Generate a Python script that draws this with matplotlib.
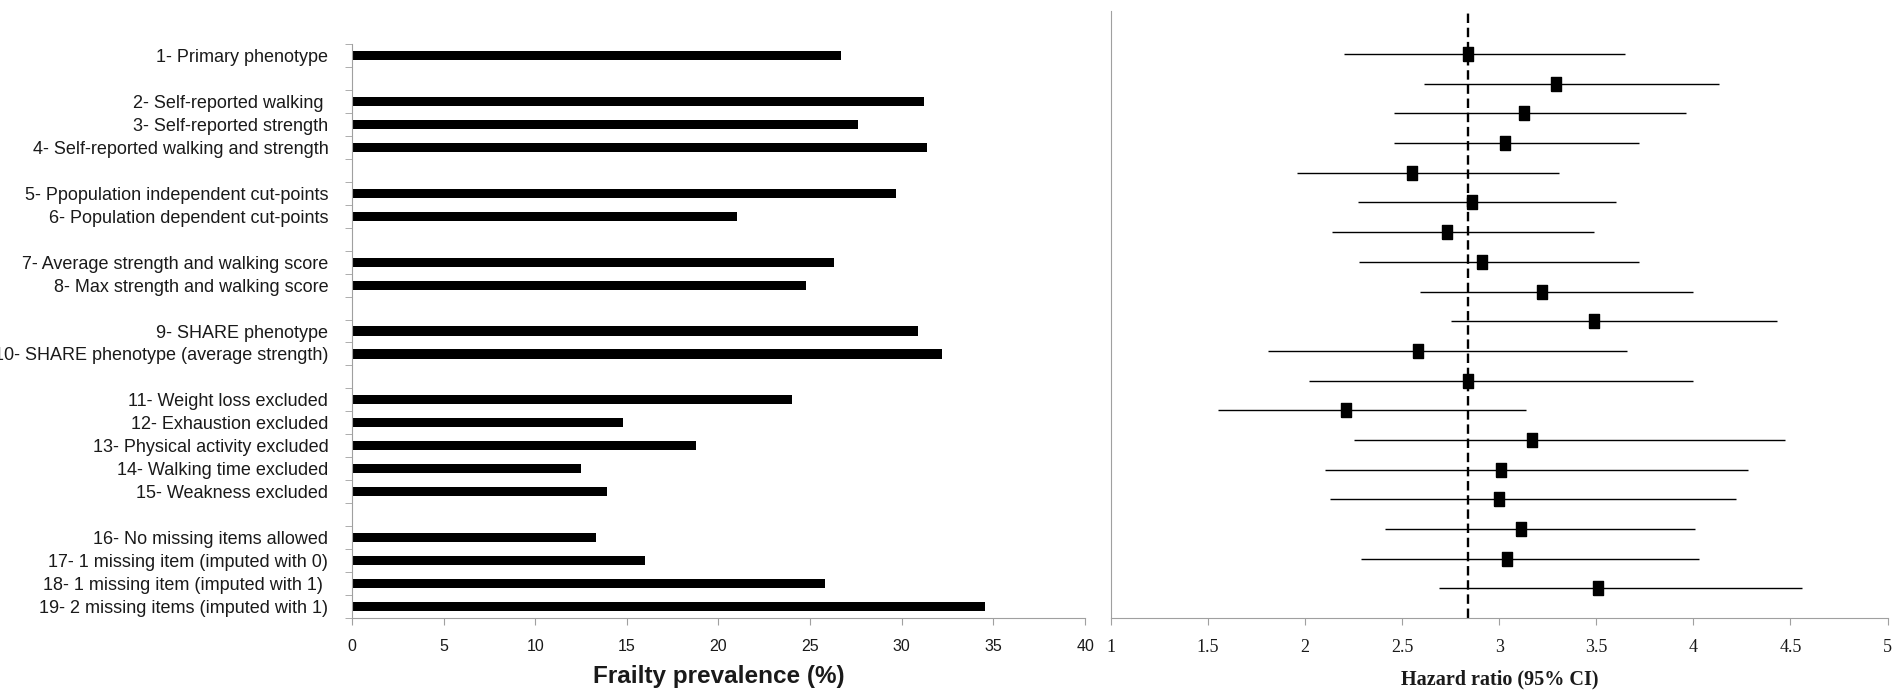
import numpy as np
import matplotlib
matplotlib.use('Agg')
import matplotlib.pyplot as plt

# frailty definitions (top to bottom) and whether a blank row follows
labels = ['1- Primary phenotype',
          '2- Self-reported walking ', '3- Self-reported strength',
          '4- Self-reported walking and strength',
          '5- Ppopulation independent cut-points', '6- Population dependent cut-points',
          '7- Average strength and walking score', '8- Max strength and walking score',
          '9- SHARE phenotype', '10- SHARE phenotype (average strength)',
          '11- Weight loss excluded', '12- Exhaustion excluded',
          '13- Physical activity excluded', '14- Walking time excluded',
          '15- Weakness excluded',
          '16- No missing items allowed', '17- 1 missing item (imputed with 0)',
          '18- 1 missing item (imputed with 1) ', '19- 2 missing items (imputed with 1)']
gap_after = [1, 4, 6, 8, 10, 15]

prevalence = [26.7, 31.2, 27.6, 31.4, 29.7, 21.0, 26.3, 24.8, 30.9, 32.2,
              24.0, 14.8, 18.8, 12.5, 13.9, 13.3, 16.0, 25.8, 34.55]

hr = [2.84, 3.29, 3.13, 3.03, 2.55, 2.86, 2.73, 2.91, 3.22, 3.49,
      2.58, 2.84, 2.21, 3.17, 3.01, 3.00, 3.11, 3.04, 3.51]
hr_low = [2.20, 2.61, 2.46, 2.46, 1.96, 2.27, 2.14, 2.28, 2.59, 2.75,
          1.81, 2.02, 1.55, 2.25, 2.10, 2.13, 2.41, 2.29, 2.69]
hr_high = [3.65, 4.13, 3.96, 3.72, 3.31, 3.60, 3.49, 3.72, 4.00, 4.43,
           3.66, 4.00, 3.14, 4.47, 4.28, 4.22, 4.01, 4.03, 4.56]
hr_ref = 2.84

plt.rcParams['font.family'] = ['Liberation Sans', 'DejaVu Sans']
txt = '#1a1a1a'
grey = '#a0a0a0'

fig = plt.figure(figsize=(18.93, 6.92), dpi=100)

# left panel: prevalence bars, with blank rows between groups
ax1 = fig.add_axes([0.1859, 0.1069, 0.5732 - 0.1859, 0.9364 - 0.1069])
pos = []
slot = 0
for i in range(len(labels)):
    pos.append(slot + 0.5)
    slot += 1
    if i + 1 in gap_after:
        slot += 1
nslots = slot

ax1.barh(pos, prevalence, height=0.4, color='black')
ax1.set_ylim(nslots, 0)
ax1.set_xlim(0, 40)
ax1.set_yticks(pos)
ax1.set_yticklabels(labels, fontsize=13, color=txt)
ax1.set_yticks(np.arange(nslots + 1), minor=True)
ax1.tick_params(axis='y', which='major', length=0, pad=17)
ax1.tick_params(axis='y', which='minor', length=5, color=grey, direction='out')
ax1.set_xticks(np.arange(0, 41, 5))
ax1.tick_params(axis='x', length=5, color=grey, labelsize=11.5, labelcolor=txt, pad=10)
for s in ['top', 'right']:
    ax1.spines[s].set_visible(False)
for s in ['left', 'bottom']:
    ax1.spines[s].set_color(grey)
ax1.set_xlabel('Frailty prevalence (%)', fontsize=17.5, fontweight='bold', color=txt, labelpad=8)

# right panel: hazard ratios with 95% CI
ax2 = fig.add_axes([0.5869, 0.1069, 0.9971 - 0.5869, 0.9841 - 0.1069])
ypos = np.arange(1, len(hr) + 1)
rect = [(-0.38, -0.5), (0.38, -0.5), (0.38, 0.5), (-0.38, 0.5), (-0.38, -0.5)]
ax2.hlines(ypos, hr_low, hr_high, color='black', lw=1.0, zorder=2)
ax2.plot(hr, ypos, linestyle='none', marker=rect, markersize=10,
         color='black', zorder=3)
ax2.axvline(hr_ref, color='black', lw=1.7, dashes=(4, 2), zorder=1)
ax2.set_xlim(1, 5)
ax2.set_ylim(20, -0.45)
ax2.set_yticks([])
ax2.set_xticks(np.arange(1, 5.01, 0.5))
ax2.set_xticklabels(['1', '1.5', '2', '2.5', '3', '3.5', '4', '4.5', '5'],
                    family=['Liberation Serif', 'DejaVu Serif'])
ax2.tick_params(axis='x', length=5, color=grey, labelsize=13, labelcolor=txt, pad=10)
for s in ['top', 'right']:
    ax2.spines[s].set_visible(False)
for s in ['left', 'bottom']:
    ax2.spines[s].set_color(grey)
ax2.set_xlabel('Hazard ratio (95% CI)', fontsize=14.5, fontweight='bold', color=txt,
               family=['Liberation Serif', 'DejaVu Serif'], labelpad=10)

fig.savefig('out.png', dpi=100)
